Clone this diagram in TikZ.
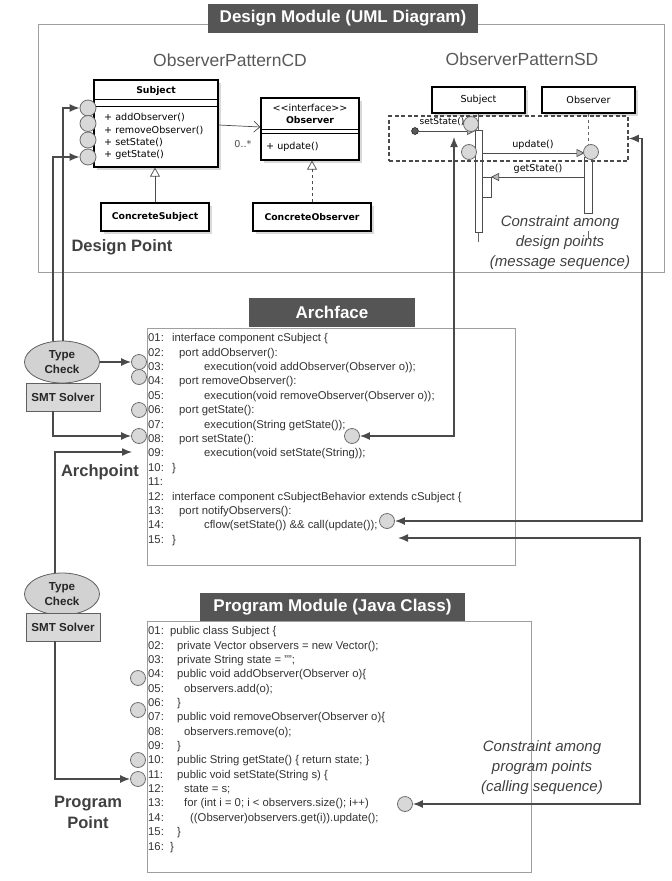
\documentclass[tikz,border=0pt]{standalone}
\usepackage{fontspec}
\setmainfont{Liberation Sans}
\newfontfamily\umlfont{DejaVu Sans}
\usetikzlibrary{arrows.meta,shapes.geometric,shadows}

\definecolor{linegray}{HTML}{4A4A4A}
\definecolor{barfill}{HTML}{555555}
\definecolor{ptfill}{HTML}{D8D8D8}
\definecolor{ptdraw}{HTML}{6E6E6E}
\definecolor{codegray}{HTML}{333333}

\tikzset{
  titlebar/.style={fill=barfill, text=white, font=\fontsize{17}{20}\selectfont\bfseries, inner sep=0pt},
  modframe/.style={draw=gray!75, line width=0.8pt},
  codeline/.style={font=\fontsize{11.3}{13}\selectfont, text=codegray, anchor=west, inner sep=0pt, text height=8pt, text depth=2.5pt},
  pt/.style={circle, draw=ptdraw, fill=ptfill, line width=0.8pt, minimum size=15pt, inner sep=0pt},
  umlbox/.style={draw=black, line width=1.3pt, fill=white, inner sep=0pt,
    drop shadow={shadow xshift=3pt, shadow yshift=-3pt, fill=gray!30, opacity=1}},
  umltext/.style={font=\umlfont\fontsize{9.6}{11}\selectfont, inner sep=0pt},
  umlbold/.style={font=\umlfont\bfseries\fontsize{9.3}{11}\selectfont, inner sep=0pt},
  bigname/.style={font=\fontsize{17.5}{20}\selectfont, text=black!65},
  ptlabel/.style={font=\fontsize{16.5}{21}\selectfont\bfseries, text=black!75, align=center},
  note/.style={font=\fontsize{15}{20}\selectfont\itshape, text=black!75, align=center},
  checker/.style={ellipse, draw=gray!75!black, fill=gray!35, line width=0.8pt, minimum width=75pt,
    minimum height=42pt, inner sep=0pt, align=center, font=\fontsize{11.6}{14.5}\selectfont\bfseries, text=black!85},
  solver/.style={draw=gray!75!black, fill=gray!30, line width=0.8pt, minimum width=74pt,
    minimum height=28pt, inner sep=0pt, font=\fontsize{11.6}{14}\selectfont\bfseries, text=black!85},
  link/.style={draw=linegray, line width=1.4pt, -{Latex[length=10pt,width=8pt]}},
  link2/.style={link, {Latex[length=10pt,width=8pt]}-{Latex[length=10pt,width=8pt]}},
  msg/.style={draw=black!70, line width=0.7pt, -{Triangle[length=8pt,width=8pt,fill=gray!55]}},
  assoc/.style={draw=black!70, line width=0.7pt, -{Straight Barb[length=6pt,width=11pt]}},
  gen/.style={draw=black!70, line width=0.7pt, -{Triangle[open,length=9pt,width=10pt]}},
  real/.style={gen, dashed},
}

\begin{document}
\begin{tikzpicture}[x=1pt,y=-1pt]
\useasboundingbox (0,0) rectangle (672,881);

\draw[modframe] (38,24) rectangle (664,272);
\node[titlebar, minimum width=270pt, minimum height=29pt] (dmtitle) at (343,18.5) {Design Module (UML Diagram)};
\node[bigname] (cdname) at (230,60) {ObserverPatternCD};
\node[bigname] (sdname) at (522,59) {ObserverPatternSD};

\node[umlbox, minimum width=124pt, minimum height=87pt] (subj) at (156,123.5) {};
\node[umlbold] (subjname) at (156,91) {Subject};
\draw[line width=0.8pt] (94,99) -- (218,99) (94,106) -- (218,106);
\foreach \op [count=\k] in {addObserver(),removeObserver(),setState(),getState()}
  \node[umltext, anchor=west] (op\k) at (104,{105.5+12.4*\k}) {+ \op};
\foreach \y [count=\k] in {108,123.5,140,157}
  \node[pt, minimum size=16pt] (dp\k) at (88,\y) {};

\node[umlbox, minimum width=98pt, minimum height=62pt] (obsv) at (310,129) {};
\node[umltext] (obsvst) at (310,108) {<<interface>>};
\node[umlbold] (obsvname) at (310,120.5) {Observer};
\draw[line width=0.8pt] (261,129) -- (359,129) (261,133) -- (359,133);
\node[umltext, anchor=west] (upd) at (266,147) {+ update()};
\draw[assoc] ([yshift=-1.5pt]subj.east) -- ([yshift=2pt]obsv.west);
\node[umltext, text=black!70] (mult) at (243,144) {0..*};

\node[umlbox, umlbold, minimum width=108pt, minimum height=28pt] (csub) at (155,217) {ConcreteSubject};
\draw[gen] (csub) -- (csub |- subj.south);
\node[umlbox, umlbold, minimum width=118pt, minimum height=28pt] (cobs) at (312,217) {ConcreteObserver};
\draw[real] (cobs) -- (cobs |- obsv.south);
\node[ptlabel] (dpoint) at (122,247) {Design Point};

\node[umlbox, umltext, minimum width=93pt, minimum height=26pt] (sdsub) at (478.5,100) {Subject};
\node[umlbox, umltext, minimum width=93pt, minimum height=26pt] (sdobs) at (588.5,100) {Observer};
\draw[black!60, line width=0.6pt] (sdsub.south) -- (478.5,130);
\draw[black!70, fill=white] (475,130) rectangle (482,232);
\draw[black!60] (478.5,233) -- (478.5,242);
\draw[black!60, dashed] (sdobs.south) -- (588.5,157);
\draw[black!70, fill=white] (584.5,157) rectangle (592.5,213);
\draw[black!60] (588.5,231) -- (588.5,238);
\draw[black!70, fill=white] (482,177) rectangle (491,197);

\node[circle, fill=black!65, draw=black, inner sep=0pt, minimum size=7pt] (ssdot) at (415,131) {};
\coordinate (ssin) at (475,131);
\draw[msg] (ssdot) -- (ssin);
\coordinate (updout) at (482,153);
\coordinate (updin) at (584.5,153);
\draw[msg] (updout) -- (updin);
\coordinate (gsout) at (584.5,177);
\coordinate (gsin) at (491,177);
\draw[msg] (gsout) -- (gsin);
\node[pt] (sd1) at (471,124) {};
\node[pt] (sd2) at (469,152) {};
\node[pt] (sd3) at (591,152) {};
\node[umltext, font=\umlfont\fontsize{9}{11}\selectfont] (sslab) at (442,122) {setState()};
\node[umltext] (updlab) at (533,145) {update()};
\node[umltext] (gslab) at (538,169) {getState()};
\node[draw=linegray, line width=1.6pt, dash pattern=on 4pt off 2.5pt, minimum width=239pt,
  minimum height=45pt, inner sep=0pt] (sdbox) at (508.5,138.5) {};
\node[note] (dnote) at (560,243) {Constraint among\\design points\\(message sequence)};

\node[titlebar, minimum width=166pt, minimum height=29pt] (aftitle) at (332,312.5) {Archface};
\draw[modframe] (147,328) rectangle (515,565);
\foreach \n/\x/\t [count=\k] in {
  01/172/{interface component cSubject \{},
  02/179/{port addObserver():},
  03/204/{execution(void addObserver(Observer o));},
  04/179/{port removeObserver():},
  05/204/{execution(void removeObserver(Observer o));},
  06/179/{port getState():},
  07/204/{execution(String getState());},
  08/179/{port setState():},
  09/204/{execution(void setState(String));},
  10/172/{\}},
  11/172/{},
  12/172/{interface component cSubjectBehavior extends cSubject \{},
  13/179/{port notifyObservers():},
  14/204/{cflow(setState()) \&\& call(update());},
  15/172/{\}}}
{
  \node[codeline] (afn\k) at (148,{339+14.4*(\k-1)}) {\n:};
  \node[codeline] (aft\k) at (\x,{339+14.4*(\k-1)}) {\t};
}
\foreach \y [count=\k] in {362,377,410,436}
  \node[pt] (ap\k) at (139,\y) {};
\node[pt] (ap5) at (352,436) {};
\node[pt] (ap6) at (387,521) {};

\node[checker] (tc1) at (62,362) {Type\\Check};
\node[solver] (sm1) at (63,397) {SMT Solver};
\node[ptlabel] (apoint) at (100,472) {Archpoint};

\node[titlebar, minimum width=265pt, minimum height=28pt] (pmtitle) at (332.5,607) {Program Module (Java Class)};
\draw[modframe] (147,621) rectangle (531,872);
\foreach \n/\x/\t [count=\k] in {
  01/170/{public class Subject \{},
  02/177/{private Vector observers = new Vector();},
  03/177/{private String state = ””;},
  04/177/{public void addObserver(Observer o)\{},
  05/184/{observers.add(o);},
  06/177/{\}},
  07/177/{public void removeObserver(Observer o)\{},
  08/184/{observers.remove(o);},
  09/177/{\}},
  10/177/{public String getState() \{ return state; \}},
  11/177/{public void setState(String s) \{},
  12/184/{state = s;},
  13/184/{for (int i = 0; i < observers.size(); i++)},
  14/190/{((Observer)observers.get(i)).update();},
  15/177/{\}},
  16/170/{\}}}
{
  \node[codeline] (pmn\k) at (148,{632+14.35*(\k-1)}) {\n:};
  \node[codeline] (pmt\k) at (\x,{632+14.35*(\k-1)}) {\t};
}
\foreach \y [count=\k] in {678,710,760,779}
  \node[pt] (pp\k) at (138,\y) {};
\node[pt] (pp5) at (405,804) {};

\node[checker] (tc2) at (62,594) {Type\\Check};
\node[solver] (sm2) at (63,627) {SMT Solver};
\node[ptlabel] (ppoint) at (88,812) {Program\\Point};
\node[note] (pnote) at (542,768) {Constraint among\\program points\\(calling sequence)};

\draw[link] ([xshift=1pt]tc1.north) |- (dp1);
\draw[link] ([xshift=-9pt]tc1.north) |- (dp4);
\draw[link] (tc1) -- (ap1);
\draw[link] ([xshift=-10pt]sm1.south) |- (ap4);
\coordinate (apin) at (132,452);
\draw[link] ([xshift=-7pt]tc2.north) |- (apin);
\draw[link] ([xshift=-8pt]sm2.south) |- (pp4);
\coordinate (sdin) at (454,137);
\draw[link2] (ap5) -| (sdin);
\coordinate (rtop) at (642,138.5);
\draw[link2] (ap6) -| (rtop) -- (sdbox.east);
\coordinate (afin) at (398,538);
\coordinate (rbot) at (640,804);
\draw[link2] (afin) -| (rbot) -- (pp5);
\end{tikzpicture}
\end{document}
